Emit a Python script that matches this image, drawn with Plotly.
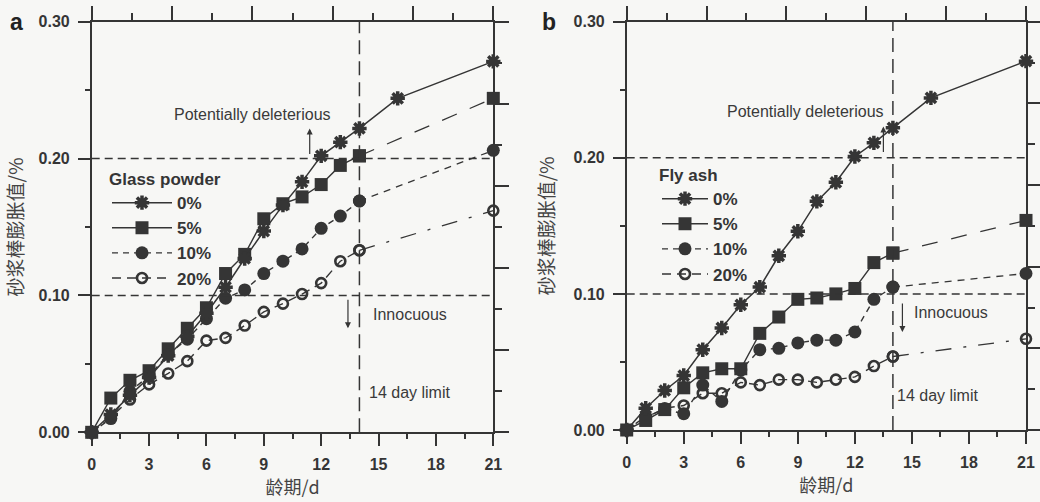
import plotly.graph_objects as go

# ---------------- data ----------------
days = list(range(0, 15)) + [21]
days_ctrl = list(range(0, 15)) + [16, 21]

# Panel a: glass powder
gp_0 = [0, 0.013, 0.027, 0.040, 0.056, 0.070, 0.087, 0.106, 0.127, 0.147, 0.166, 0.183, 0.202, 0.212, 0.222, 0.244, 0.271]
gp_5 = [0, 0.025, 0.038, 0.045, 0.061, 0.076, 0.091, 0.116, 0.130, 0.156, 0.167, 0.172, 0.181, 0.195, 0.202, 0.244]
gp_10 = [0, 0.010, 0.030, 0.041, 0.057, 0.068, 0.083, 0.098, 0.104, 0.116, 0.125, 0.134, 0.149, 0.158, 0.169, 0.206]
gp_20 = [0, 0.011, 0.024, 0.035, 0.043, 0.052, 0.067, 0.069, 0.078, 0.088, 0.094, 0.101, 0.109, 0.125, 0.133, 0.162]

# Panel b: fly ash
fa_0 = [0, 0.016, 0.029, 0.040, 0.059, 0.075, 0.092, 0.105, 0.128, 0.146, 0.168, 0.182, 0.201, 0.211, 0.222, 0.244, 0.271]
fa_5 = [0, 0.007, 0.015, 0.031, 0.042, 0.045, 0.045, 0.071, 0.083, 0.096, 0.097, 0.100, 0.104, 0.123, 0.130, 0.154]
fa_10 = [0, 0.010, 0.015, 0.012, 0.033, 0.021, 0.044, 0.059, 0.060, 0.064, 0.066, 0.066, 0.072, 0.096, 0.105, 0.115]
fa_20 = [0, 0.009, 0.016, 0.018, 0.027, 0.027, 0.035, 0.033, 0.037, 0.037, 0.035, 0.037, 0.039, 0.047, 0.054, 0.067]

labels = ["0%", "5%", "10%", "20%"]
y_ticks = [0.0, 0.1, 0.2, 0.3]
x_ticks = [0, 3, 6, 9, 12, 15, 18, 21]
limits = [0.10, 0.20]
limit_day = 14

# ---------------- styles ----------------
INK = "#353535"
BG = "#f7f7f5"
SANS = "Liberation Sans, Arial, sans-serif"
CJK = "Noto Sans CJK SC, sans-serif"

fig = go.Figure()


def add_panel(xa, ya, legend, ctrl, s5, s10, s20):
    ext = days.index(limit_day)
    # series 20%
    fig.add_trace(go.Scatter(x=days[:ext + 1], y=s20[:ext + 1], mode="lines+markers", name=labels[3],
                             legend=legend, legendrank=4, xaxis=xa, yaxis=ya, cliponaxis=False,
                             line=dict(color=INK, width=1.4, dash="9px,6px"),
                             marker=dict(symbol="circle-open", size=10, color=INK, line=dict(width=2.6, color=INK))))
    fig.add_trace(go.Scatter(x=days[ext:], y=s20[ext:], mode="lines+markers", showlegend=False,
                             legend=legend, xaxis=xa, yaxis=ya, cliponaxis=False,
                             line=dict(color=INK, width=1.3, dash="16px,12px,3px,12px"),
                             marker=dict(symbol="circle-open", size=10, color=INK, line=dict(width=2.6, color=INK))))
    # series 10%
    fig.add_trace(go.Scatter(x=days[:ext + 1], y=s10[:ext + 1], mode="lines+markers", name=labels[2],
                             legend=legend, legendrank=3, xaxis=xa, yaxis=ya, cliponaxis=False,
                             line=dict(color=INK, width=1.4, dash="6px,5px"),
                             marker=dict(symbol="circle", size=13, color=INK)))
    fig.add_trace(go.Scatter(x=days[ext:], y=s10[ext:], mode="lines+markers", showlegend=False,
                             legend=legend, xaxis=xa, yaxis=ya, cliponaxis=False,
                             line=dict(color=INK, width=1.3, dash="7px,6px"),
                             marker=dict(symbol="circle", size=13, color=INK)))
    # series 5%
    fig.add_trace(go.Scatter(x=days[:ext + 1], y=s5[:ext + 1], mode="lines+markers", name=labels[1],
                             legend=legend, legendrank=2, xaxis=xa, yaxis=ya, cliponaxis=False,
                             line=dict(color=INK, width=1.4),
                             marker=dict(symbol="square", size=13, color=INK)))
    fig.add_trace(go.Scatter(x=days[ext:], y=s5[ext:], mode="lines+markers", showlegend=False,
                             legend=legend, xaxis=xa, yaxis=ya, cliponaxis=False,
                             line=dict(color=INK, width=1.3, dash="16px,14px"),
                             marker=dict(symbol="square", size=13, color=INK)))
    # series 0%
    fig.add_trace(go.Scatter(x=days_ctrl, y=ctrl, mode="lines+markers", name=labels[0],
                             legend=legend, legendrank=1, xaxis=xa, yaxis=ya, cliponaxis=False,
                             line=dict(color=INK, width=1.5),
                             marker=dict(symbol="asterisk-open", size=12, color=INK, line=dict(width=3.5, color=INK))))


add_panel("x", "y", "legend", gp_0, gp_5, gp_10, gp_20)
add_panel("x2", "y2", "legend2", fa_0, fa_5, fa_10, fa_20)

# empty helper traces so the decorative frame axes (top / right) are rendered
for xa, ya in (("x3", "y"), ("x", "y3"), ("x4", "y2"), ("x2", "y4")):
    fig.add_trace(go.Scatter(x=[], y=[], xaxis=xa, yaxis=ya, showlegend=False, hoverinfo="skip"))

# ---------------- axes ----------------
tickfont = dict(family=SANS, size=16, color=INK, weight="bold")


def xax(domain, anchor):
    return dict(domain=domain, anchor=anchor, range=[0, 21], tickvals=x_ticks, ticks="outside", ticklen=12,
                tickwidth=1.5, tickcolor=INK, showline=True, linewidth=1.5, linecolor=INK, showgrid=False,
                zeroline=False, tickfont=tickfont, ticklabelstandoff=5, automargin=False,
                minor=dict(dtick=1.5, ticks="outside", ticklen=5, tickwidth=1.5, tickcolor=INK, showgrid=False),
                title=dict(text="龄期/d", font=dict(family=CJK, size=18, color="#444"), standoff=8))


def yax(domain, anchor, standoff):
    return dict(domain=domain, anchor=anchor, range=[0, 0.30], tickvals=y_ticks, tickformat=".2f",
                ticks="outside", ticklen=12, tickwidth=1.5, tickcolor=INK, showline=True, linewidth=1.5,
                linecolor=INK, showgrid=False, zeroline=False, tickfont=tickfont, ticklabelstandoff=5,
                automargin=False,
                minor=dict(dtick=0.05, ticks="outside", ticklen=5, tickwidth=1.5, tickcolor=INK, showgrid=False),
                title=dict(text="砂浆棒膨胀值/%", font=dict(family=CJK, size=19, color="#444"), standoff=standoff))


def top_ax(over, anchor):
    return dict(overlaying=over, anchor=anchor, side="top", range=[0, 10], dtick=2, ticks="outside",
                ticklen=14, tickwidth=1.5, tickcolor=INK, showticklabels=False, showline=True, linewidth=1.5,
                linecolor=INK, showgrid=False, zeroline=False, automargin=False,
                minor=dict(dtick=1, ticks="outside", ticklen=7, tickwidth=1.5, tickcolor=INK, showgrid=False))


def right_ax(over, anchor):
    return dict(overlaying=over, anchor=anchor, side="right", range=[0, 5], dtick=1, ticks="outside",
                ticklen=14, tickwidth=1.5, tickcolor=INK, showticklabels=False, showline=True, linewidth=1.5,
                linecolor=INK, showgrid=False, zeroline=False, automargin=False,
                minor=dict(dtick=0.5, ticks="outside", ticklen=7, tickwidth=1.5, tickcolor=INK, showgrid=False))


W, H = 1040, 502
dom_xa = [91.7 / W, 493.3 / W]
dom_xb = [626.7 / W, 1026 / W]
dom_ya = [(H - 432.3) / H, (H - 21.7) / H]
dom_yb = [(H - 430) / H, (H - 21.7) / H]

# ---------------- reference lines & annotations ----------------
shapes = []
annotations = []
for xr, yr in (("x", "y"), ("x2", "y2")):
    for lv in limits:
        shapes.append(dict(type="line", xref=xr, yref=yr, x0=0, x1=21, y0=lv, y1=lv,
                           line=dict(color=INK, width=1.5, dash="8px,5px")))
    shapes.append(dict(type="line", xref=xr, yref=yr, x0=limit_day, x1=limit_day, y0=0, y1=0.30,
                       line=dict(color=INK, width=1.5, dash="14px,7px")))

txtfont = dict(family=SANS, size=16, color="#3a3a3a")
panel_text = {
    ("x", "y"): dict(pot=(8.4, 0.232), up=(11.4, 0.222), dn=(13.4, 0.076), inn=(14.6, 0.086), lim=(14.4, 0.029)),
    ("x2", "y2"): dict(pot=(9.4, 0.234), up=(13.5, 0.223), dn=(14.5, 0.072), inn=(15.0, 0.086), lim=(14.1, 0.025)),
}
for (xr, yr), p in panel_text.items():
    annotations.append(dict(xref=xr, yref=yr, x=p["pot"][0], y=p["pot"][1], text="Potentially deleterious",
                            showarrow=False, font=txtfont))
    annotations.append(dict(xref=xr, yref=yr, x=p["inn"][0], y=p["inn"][1], text="Innocuous",
                            showarrow=False, xanchor="left", font=txtfont))
    annotations.append(dict(xref=xr, yref=yr, x=p["lim"][0], y=p["lim"][1], text="14 day limit",
                            showarrow=False, xanchor="left", font=txtfont))
    annotations.append(dict(xref=xr, yref=yr, x=p["up"][0], y=p["up"][1], ax=0, ay=27, text="",
                            showarrow=True, arrowhead=2, arrowsize=1, arrowwidth=1.2, arrowcolor=INK))
    annotations.append(dict(xref=xr, yref=yr, x=p["dn"][0], y=p["dn"][1], ax=0, ay=-30, text="",
                            showarrow=True, arrowhead=2, arrowsize=1, arrowwidth=1.2, arrowcolor=INK))

for letter, px in (("a", 16), ("b", 549)):
    annotations.append(dict(xref="paper", yref="paper", x=px / W, y=1 - 22 / H, text=letter, showarrow=False,
                            xanchor="center", yanchor="middle",
                            font=dict(family=SANS, size=23, color="#222", weight="bold")))

legfont = dict(family=SANS, size=17, color=INK, weight="bold")

fig.update_layout(
    width=W, height=H,
    margin=dict(l=0, r=0, t=0, b=0),
    paper_bgcolor=BG, plot_bgcolor=BG,
    xaxis=xax(dom_xa, "y"), yaxis=yax(dom_ya, "x", 10),
    xaxis2=xax(dom_xb, "y2"), yaxis2=yax(dom_yb, "x2", 14),
    xaxis3=top_ax("x", "y"), yaxis3=right_ax("y", "x"),
    xaxis4=top_ax("x2", "y2"), yaxis4=right_ax("y2", "x2"),
    shapes=shapes, annotations=annotations,
    legend=dict(x=107 / W, y=1 - 163 / H, xanchor="left", yanchor="top", bgcolor="rgba(0,0,0,0)",
                font=legfont, title=dict(text="Glass powder", font=legfont), tracegroupgap=0,
                itemwidth=60),
    legend2=dict(x=657 / W, y=1 - 159 / H, xanchor="left", yanchor="top", bgcolor="rgba(0,0,0,0)",
                 font=legfont, title=dict(text="Fly ash", font=legfont), tracegroupgap=0,
                 itemwidth=46),
)

fig.write_html("out.html", config={"displayModeBar": False},
               post_script="document.body.style.margin='0';document.body.style.background='%s';" % BG)
